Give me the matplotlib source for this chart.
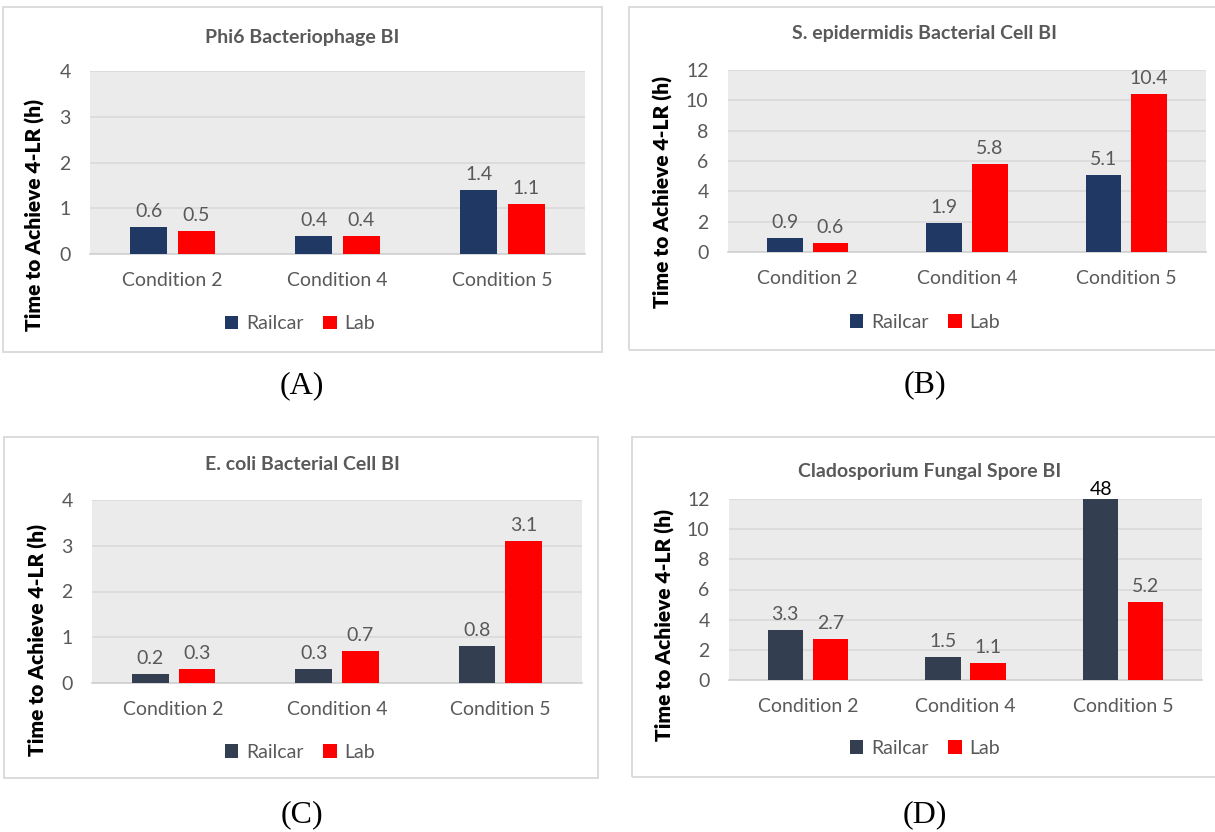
import matplotlib
matplotlib.use('Agg')
import matplotlib.pyplot as plt
from matplotlib.patches import Rectangle, Patch
import numpy as np

plt.rcParams['font.family'] = ['Lato', 'DejaVu Sans']

W, H = 1215, 832

conditions = ['Condition 2', 'Condition 4', 'Condition 5']
series_names = ['Railcar', 'Lab']

titles = ['Phi6 Bacteriophage BI', 'S. epidermidis Bacterial Cell BI',
          'E. coli Bacterial Cell BI', 'Cladosporium Fungal Spore BI']
panel_tags = ['(A)', '(B)', '(C)', '(D)']

phi6_railcar = [0.6, 0.4, 1.4]
phi6_lab = [0.5, 0.4, 1.1]
sepi_railcar = [0.9, 1.9, 5.1]
sepi_lab = [0.6, 5.8, 10.4]
ecoli_railcar = [0.2, 0.3, 0.8]
ecoli_lab = [0.3, 0.7, 3.1]
clado_railcar = [3.3, 1.5, 48]
clado_lab = [2.7, 1.1, 5.2]

y_max = [4, 12, 4, 12]
y_step = [1, 2, 1, 2]

GRAY_TXT = '#595959'
NAVY = '#203864'
SLATE = '#333F50'
RED = '#FF0000'
FS = 14

# pixel layout of each panel: border box, plot area, text anchors
layout = [
    dict(box=(3, 7, 602, 352), ax=(90, 71, 585, 254), title=(302, 37),
         legend=(300, 324), ylab=(35, 215), tag=(302, 386), railcolor=NAVY),
    dict(box=(629, 7, 1222, 350), ax=(728, 70, 1206, 252), title=(925, 33),
         legend=(925, 322), ylab=(663, 192), tag=(925, 385), railcolor=NAVY),
    dict(box=(4, 437, 598, 778), ax=(92, 500, 582, 683), title=(302, 465),
         legend=(300, 752), ylab=(38, 640), tag=(302, 815), railcolor=SLATE),
    dict(box=(632, 437, 1222, 777), ax=(729, 499, 1202, 680), title=(930, 472),
         legend=(925, 748), ylab=(665, 625), tag=(925, 815), railcolor=SLATE),
]

data = [(phi6_railcar, phi6_lab), (sepi_railcar, sepi_lab),
        (ecoli_railcar, ecoli_lab), (clado_railcar, clado_lab)]


def fx(px):
    return px / W


def fy(py):
    return 1 - py / H


fig = plt.figure(figsize=(W / 100, H / 100), dpi=100)

for i, lay in enumerate(layout):
    bx0, by0, bx1, by1 = lay['box']
    fig.add_artist(Rectangle((fx(bx0), fy(by1)), fx(bx1 - bx0), (by1 - by0) / H,
                             transform=fig.transFigure, fill=False,
                             edgecolor='#D9D9D9', linewidth=1.3))

    x0, y0, x1, y1 = lay['ax']
    ax = fig.add_axes([fx(x0), fy(y1), fx(x1 - x0), (y1 - y0) / H])
    ax.set_facecolor('#EBEBEB')

    railcar, lab = data[i]
    x = np.arange(len(conditions))
    width = 0.225
    off = 0.143
    colors = [lay['railcolor'], RED]
    for vals, sign, col in zip((railcar, lab), (-1, 1), colors):
        ax.bar(x + sign * off, vals, width, color=col, zorder=3)
        for xi, v in zip(x, vals):
            if v > y_max[i]:
                # bar runs past the axis top, label sits just above it
                ax.annotate(f'{v:g}', (xi + sign * off, y_max[i]),
                            xytext=(0, 1), textcoords='offset points',
                            ha='center', va='bottom', fontsize=FS,
                            color='black', annotation_clip=False)
            else:
                ax.annotate(f'{v:g}', (xi + sign * off, v),
                            xytext=(0, 5), textcoords='offset points',
                            ha='center', va='bottom', fontsize=FS,
                            color=GRAY_TXT)

    ax.set_xlim(-0.5, 2.5)
    ax.set_ylim(0, y_max[i])
    ax.set_yticks(np.arange(0, y_max[i] + 0.1, y_step[i]))
    ax.set_xticks(x)
    ax.set_xticklabels(conditions)
    ax.yaxis.grid(True, color='#D9D9D9', linewidth=1.2, zorder=0)
    ax.set_axisbelow(True)
    for s in ['top', 'right', 'left']:
        ax.spines[s].set_visible(False)
    ax.spines['bottom'].set_color('#D0D0D0')
    ax.spines['bottom'].set_linewidth(1.2)
    ax.tick_params(axis='both', length=0, labelsize=FS, colors=GRAY_TXT)
    ax.tick_params(axis='x', pad=13)
    ax.tick_params(axis='y', pad=14)

    fig.text(fx(lay['title'][0]), fy(lay['title'][1]), titles[i],
             ha='center', va='center', fontsize=14, fontweight='bold',
             color=GRAY_TXT)
    fig.text(fx(lay['ylab'][0]), fy(lay['ylab'][1]), 'Time to Achieve 4-LR (h)',
             ha='center', va='center', rotation=90, fontsize=15,
             fontweight='heavy', color='black')

    handles = [Patch(facecolor=c) for c in colors]
    fig.legend(handles, series_names, loc='center',
               bbox_to_anchor=(fx(lay['legend'][0]), fy(lay['legend'][1])),
               ncol=2, frameon=False, fontsize=FS, handlelength=0.7,
               handleheight=0.7, handletextpad=0.4, columnspacing=1.0,
               labelcolor=GRAY_TXT)

    fig.text(fx(lay['tag'][0]), fy(lay['tag'][1]), panel_tags[i],
             ha='center', va='center', fontsize=23, family='Liberation Serif',
             color='black')

fig.savefig('out.png', dpi=100, facecolor='white')
